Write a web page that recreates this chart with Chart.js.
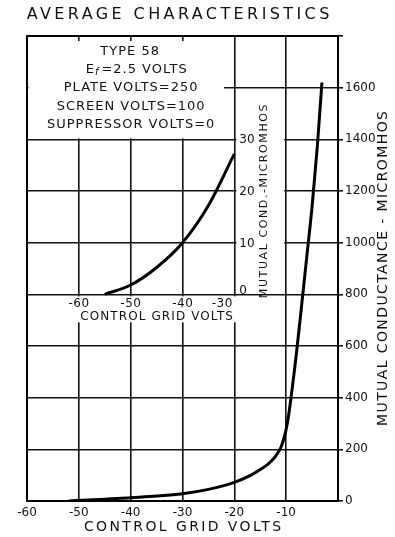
<!DOCTYPE html>
<html>
<head>
<meta charset="utf-8">
<script src="https://cdn.jsdelivr.net/npm/chart.js@4/dist/chart.umd.min.js"></script>
<style>
  html, body { margin: 0; padding: 0; background: #fff; }
  #wrap { width: 395px; height: 537px; }
</style>
</head>
<body>
<div id="wrap"><canvas id="gmChart" width="395" height="537"></canvas></div>
<script>
// control grid volts against mutual conductance (micromhos)
const gridVolts = [-52, -50, -45, -40, -35, -30, -25, -20, -17, -15, -14, -13, -12, -11, -10.5, -10, -9.5, -9, -8.5, -8, -7, -6, -5, -4, -3.1];
const conductance = [0, 3, 7, 13, 19, 28, 45, 72, 98, 122, 135, 152, 175, 208, 238, 278, 335, 410, 490, 575, 760, 950, 1140, 1370, 1620];

// the remote cut-off tail, expanded
const insetVolts = [-55, -50, -45, -40, -35, -30];
const insetConductance = [0, 1.8, 5.2, 10, 17.2, 27.2];

const xTickLabels = ["-60", "-50", "-40", "-30", "-20", "-10", ""];
const yTickLabels = ["0", "200", "400", "600", "800", "1000", "1200", "1400", "1600", ""];
const insetXTicks = [-60, -50, -40, -30];
const insetYTicks = [0, 10, 20, 30];

const ratingLines = ["TYPE 58", "=2.5 VOLTS", "PLATE VOLTS=250", "SCREEN VOLTS=100", "SUPPRESSOR VOLTS=0"];

const INK = "#111";
const FONT = '"DejaVu Sans", sans-serif';

function say(ctx, str, px, py, size, spacing, align, angle) {
    ctx.save();
    ctx.translate(px, py);
    ctx.rotate(angle || 0);
    ctx.font = size + "px " + FONT;
    ctx.letterSpacing = spacing + "px";
    ctx.textAlign = align || "center";
    ctx.textBaseline = "middle";
    ctx.fillStyle = INK;
    // trailing letter spacing pushes centred text left, pull it back
    let shift = 0;
    if (ctx.textAlign === "center") shift = spacing / 2;
    if (ctx.textAlign === "right") shift = spacing;
    ctx.fillText(str, shift, 0);
    ctx.restore();
}

const sheet = {
    id: "sheet",
    beforeDatasetsDraw(chart) {
        const { ctx, chartArea: a, scales: { x, y } } = chart;
        const base = y.getPixelForValue(800);
        const top1600 = y.getPixelForValue(1600);

        ctx.save();
        ctx.fillStyle = "#fff";
        // rating block in the upper left
        ctx.fillRect(a.left + 1.5, a.top + 5,
            x.getPixelForValue(-22) - a.left - 1.5,
            y.getPixelForValue(1400) - 1 - a.top - 5);
        // under the inset's grid-volts scale
        ctx.fillRect(a.left + 1.5, base + 2,
            x.getPixelForValue(-18.8) - a.left - 1.5, 26);
        // beside the inset's conductance scale
        ctx.fillRect(x.getPixelForValue(-20) + 2, top1600 + 5,
            x.getPixelForValue(-10) - x.getPixelForValue(-20) - 4,
            base - 2 - top1600 - 5);

        ctx.strokeStyle = "#000";
        ctx.lineWidth = 2;
        ctx.strokeRect(a.left, a.top, a.right - a.left, a.bottom - a.top);
        ctx.restore();
    },
    afterDatasetsDraw(chart) {
        const { ctx, chartArea: a, scales: { x, y, x2, y2 } } = chart;

        say(ctx, "AVERAGE CHARACTERISTICS", 178, 15, 16, 3.4);
        say(ctx, "CONTROL GRID VOLTS", x.getPixelForValue(-30), 527, 14, 2.4);
        say(ctx, "MUTUAL CONDUCTANCE - MICROMHOS", a.right + 45, (a.top + a.bottom) / 2, 14, 1.4, "center", -Math.PI / 2);

        // rating block
        const cx = x.getPixelForValue(-40);
        const y0 = y.getPixelForValue(1600);
        say(ctx, ratingLines[0], cx - 1, y0 - 36, 13, 1);
        ctx.save();
        ctx.font = "13px " + FONT;
        ctx.letterSpacing = "1px";
        const wE = ctx.measureText("E").width;
        const wRest = ctx.measureText(ratingLines[1]).width;
        ctx.font = "italic 10px " + FONT;
        const wF = ctx.measureText("f").width + 2;
        ctx.restore();
        let sx = cx + 6 - (wE + wF + wRest) / 2;
        say(ctx, "E", sx, y0 - 18, 13, 1, "left");
        ctx.save();
        ctx.font = "italic 10px " + FONT;
        ctx.fillStyle = INK;
        ctx.textBaseline = "middle";
        ctx.fillText("f", sx + wE, y0 - 15);
        ctx.restore();
        say(ctx, ratingLines[1], sx + wE + wF, y0 - 18, 13, 1, "left");
        say(ctx, ratingLines[2], cx, y0, 13, 1);
        say(ctx, ratingLines[3], cx, y0 + 19, 13, 1);
        say(ctx, ratingLines[4], cx, y0 + 37, 13, 1);

        // inset scales
        const ib = y2.getPixelForValue(0);
        const ir = x2.getPixelForValue(-30);
        insetXTicks.forEach((v, i) => {
            const last = i === insetXTicks.length - 1;
            say(ctx, String(v), x2.getPixelForValue(v) + (last ? -2 : 0), ib + 10, 12, 0.5, last ? "right" : "center");
        });
        insetYTicks.forEach(v => {
            say(ctx, String(v), ir + 5, y2.getPixelForValue(v) + (v === 0 ? -3 : 1), 12, 0, "left");
        });
        say(ctx, "CONTROL GRID VOLTS", x2.getPixelForValue(-45), ib + 23, 12, 1.1);
        say(ctx, "MUTUAL COND.-MICROMHOS", ir + 30, y2.getPixelForValue(18), 11, 1.6, "center", -Math.PI / 2);
    }
};

new Chart(document.getElementById("gmChart"), {
    type: "line",
    data: {
        datasets: [
            {
                data: gridVolts.map((v, i) => ({ x: v, y: conductance[i] })),
                borderColor: "#000",
                borderWidth: 3,
                pointRadius: 0,
                cubicInterpolationMode: "monotone",
                xAxisID: "x",
                yAxisID: "y"
            },
            {
                data: insetVolts.map((v, i) => ({ x: v, y: insetConductance[i] })),
                borderColor: "#000",
                borderWidth: 3,
                pointRadius: 0,
                cubicInterpolationMode: "monotone",
                xAxisID: "x2",
                yAxisID: "y2"
            }
        ]
    },
    options: {
        responsive: false,
        animation: false,
        layout: { padding: { left: 27, top: 36, right: 0, bottom: 0 } },
        plugins: {
            legend: { display: false },
            tooltip: { enabled: false }
        },
        scales: {
            x: {
                type: "linear",
                position: "bottom",
                min: -60,
                max: 0,
                afterFit: s => { s.height = 36; },
                grid: { color: INK, lineWidth: 1.6, drawTicks: false },
                border: { display: false },
                ticks: {
                    stepSize: 10,
                    padding: 5,
                    color: INK,
                    font: { family: FONT, size: 12 },
                    maxRotation: 0,
                    callback: (v, i) => xTickLabels[i]
                }
            },
            y: {
                type: "linear",
                position: "right",
                min: 0,
                max: 1800,
                afterFit: s => { s.width = 57; },
                grid: { color: INK, lineWidth: 1.6, tickLength: 5 },
                border: { display: false },
                ticks: {
                    stepSize: 200,
                    padding: 2,
                    color: INK,
                    font: { family: FONT, size: 12 },
                    callback: (v, i) => yTickLabels[i]
                }
            },
            // inset axes share the grid: 10 V and 10 micromhos per division
            x2: { type: "linear", min: -70, max: -10, display: false },
            y2: { type: "linear", min: -40, max: 50, display: false }
        }
    },
    plugins: [sheet]
});
</script>
</body>
</html>
